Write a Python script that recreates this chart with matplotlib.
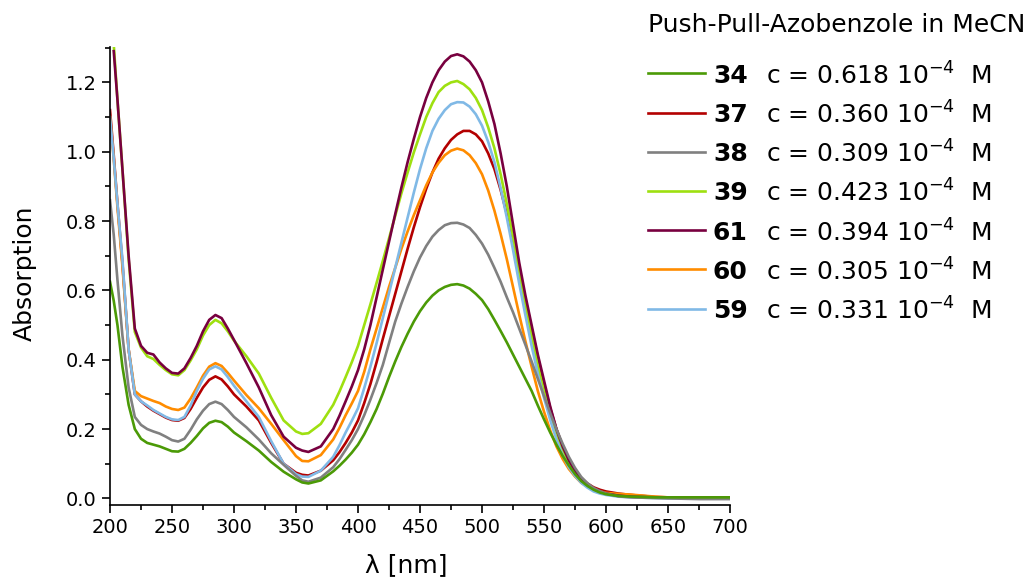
import matplotlib
matplotlib.use("Agg")
import numpy as np
import matplotlib.pyplot as plt
from matplotlib.lines import Line2D

nan = np.nan

# wavelength grid [nm]
wl = [200, 203, 206, 210, 215, 220, 225, 230, 235, 240, 245, 250, 255, 260,
      265, 270, 275, 280, 285, 290, 295, 300,
      310, 320, 330, 340, 350, 355, 360, 370,
      380, 385, 390, 395, 400, 405, 410, 415, 420, 425, 430, 435, 440, 445,
      450, 455, 460, 465, 470, 475, 480, 485, 490, 495, 500, 505, 510, 515,
      520, 525, 530, 535, 540, 545, 550, 555, 560, 565, 570, 575, 580, 585,
      590, 595, 600,
      610, 620, 630, 640, 650, 675, 700]

a34 = [0.625, 0.57, 0.50, 0.38, 0.27, 0.20, 0.172, 0.16, 0.155, 0.15, 0.143, 0.136, 0.135, 0.143,
       0.16, 0.18, 0.202, 0.218, 0.224, 0.22, 0.207, 0.19,
       0.165, 0.138, 0.105, 0.077, 0.055, 0.046, 0.043, 0.052,
       0.078, 0.094, 0.112, 0.132, 0.155, 0.185, 0.22, 0.258, 0.302, 0.35, 0.395, 0.437, 0.475, 0.51,
       0.54, 0.565, 0.585, 0.60, 0.61, 0.616, 0.618, 0.614, 0.605, 0.59, 0.572, 0.546, 0.515, 0.483,
       0.45, 0.415, 0.38, 0.345, 0.31, 0.268, 0.228, 0.19, 0.155, 0.123, 0.095, 0.07, 0.05, 0.036,
       0.025, 0.017, 0.012,
       0.007, 0.005, 0.004, 0.003, 0.003, 0.003, 0.003]

a37 = [1.12, 0.99, 0.85, 0.68, 0.43, 0.30, 0.28, 0.265, 0.253, 0.243, 0.233, 0.226, 0.224, 0.232,
       0.258, 0.29, 0.32, 0.342, 0.352, 0.343, 0.323, 0.30,
       0.265, 0.225, 0.16, 0.10, 0.074, 0.068, 0.066, 0.08,
       0.11, 0.133, 0.16, 0.19, 0.225, 0.275, 0.33, 0.393, 0.46, 0.525, 0.59, 0.655, 0.72, 0.782,
       0.84, 0.893, 0.94, 0.98, 1.01, 1.034, 1.05, 1.06, 1.06, 1.05, 1.03, 0.995, 0.95, 0.89,
       0.82, 0.743, 0.66, 0.575, 0.49, 0.407, 0.33, 0.26, 0.20, 0.151, 0.11, 0.081, 0.058, 0.043,
       0.032, 0.025, 0.02,
       0.014, 0.01, 0.007, 0.004, 0.003, 0.002, 0.002]

a38 = [0.86, 0.76, 0.63, 0.47, 0.32, 0.235, 0.212, 0.20, 0.193, 0.187, 0.178, 0.168, 0.164, 0.172,
       0.198, 0.228, 0.253, 0.272, 0.279, 0.272, 0.255, 0.235,
       0.205, 0.17, 0.13, 0.097, 0.065, 0.052, 0.048, 0.06,
       0.09, 0.113, 0.14, 0.168, 0.20, 0.24, 0.285, 0.333, 0.385, 0.448, 0.51, 0.562, 0.61, 0.655,
       0.695, 0.728, 0.755, 0.774, 0.788, 0.794, 0.795, 0.79, 0.78, 0.76, 0.735, 0.703, 0.665, 0.625,
       0.58, 0.537, 0.49, 0.443, 0.395, 0.345, 0.295, 0.246, 0.20, 0.158, 0.12, 0.088, 0.062, 0.044,
       0.03, 0.021, 0.014,
       0.006, 0.003, 0.002, 0.001, 0.0, -0.002, -0.002]

a39 = [nan, 1.31, 1.15, 0.95, 0.69, 0.48, 0.435, 0.41, 0.402, 0.385, 0.37, 0.358, 0.355, 0.37,
       0.398, 0.43, 0.47, 0.50, 0.515, 0.505, 0.482, 0.455,
       0.41, 0.36, 0.29, 0.225, 0.193, 0.186, 0.188, 0.215,
       0.27, 0.308, 0.35, 0.393, 0.44, 0.50, 0.56, 0.622, 0.685, 0.75, 0.815, 0.88, 0.94, 0.998,
       1.05, 1.10, 1.14, 1.172, 1.19, 1.20, 1.204, 1.195, 1.18, 1.155, 1.12, 1.07, 1.01, 0.935,
       0.85, 0.752, 0.65, 0.558, 0.47, 0.385, 0.31, 0.243, 0.185, 0.138, 0.10, 0.072, 0.05, 0.035,
       0.024, 0.017, 0.012,
       0.007, 0.005, 0.004, 0.003, 0.002, 0.002, 0.002]

a61 = [nan, 1.29, 1.15, 0.95, 0.70, 0.49, 0.44, 0.42, 0.415, 0.392, 0.375, 0.362, 0.36, 0.375,
       0.405, 0.44, 0.482, 0.515, 0.529, 0.52, 0.49, 0.457,
       0.39, 0.32, 0.24, 0.178, 0.146, 0.138, 0.134, 0.15,
       0.20, 0.238, 0.28, 0.323, 0.37, 0.43, 0.50, 0.58, 0.66, 0.74, 0.82, 0.897, 0.97, 1.037,
       1.10, 1.155, 1.20, 1.235, 1.26, 1.276, 1.281, 1.275, 1.26, 1.235, 1.20, 1.145, 1.08, 0.995,
       0.90, 0.79, 0.68, 0.585, 0.50, 0.415, 0.34, 0.265, 0.20, 0.15, 0.11, 0.08, 0.055, 0.04,
       0.028, 0.02, 0.014,
       0.008, 0.005, 0.004, 0.003, 0.002, 0.002, 0.002]

a60 = [1.10, 0.98, 0.84, 0.67, 0.43, 0.31, 0.295, 0.288, 0.281, 0.275, 0.265, 0.258, 0.255, 0.262,
       0.288, 0.32, 0.354, 0.38, 0.39, 0.382, 0.362, 0.34,
       0.298, 0.26, 0.215, 0.168, 0.122, 0.108, 0.107, 0.125,
       0.17, 0.203, 0.24, 0.274, 0.31, 0.365, 0.43, 0.49, 0.55, 0.61, 0.665, 0.72, 0.77, 0.817,
       0.86, 0.903, 0.94, 0.968, 0.99, 1.003, 1.009, 1.004, 0.99, 0.967, 0.935, 0.888, 0.83, 0.763,
       0.69, 0.61, 0.53, 0.453, 0.38, 0.31, 0.25, 0.196, 0.15, 0.114, 0.085, 0.063, 0.045, 0.034,
       0.025, 0.02, 0.016,
       0.013, 0.011, 0.008, 0.005, 0.003, 0.002, 0.002]

a59 = [1.10, 0.98, 0.85, 0.69, 0.43, 0.30, 0.28, 0.268, 0.255, 0.245, 0.235, 0.228, 0.226, 0.235,
       0.268, 0.31, 0.345, 0.372, 0.381, 0.372, 0.35, 0.325,
       0.28, 0.235, 0.165, 0.10, 0.07, 0.063, 0.062, 0.08,
       0.12, 0.153, 0.19, 0.224, 0.26, 0.318, 0.38, 0.448, 0.52, 0.592, 0.665, 0.738, 0.81, 0.882,
       0.95, 1.01, 1.06, 1.095, 1.12, 1.137, 1.143, 1.142, 1.13, 1.108, 1.075, 1.028, 0.97, 0.895,
       0.81, 0.717, 0.62, 0.528, 0.44, 0.36, 0.29, 0.226, 0.17, 0.125, 0.09, 0.065, 0.045, 0.031,
       0.02, 0.014, 0.01,
       0.005, 0.003, 0.002, 0.001, 0.0, 0.0, 0.0]

names = ["34", "37", "38", "39", "61", "60", "59"]
conc = ["0.618", "0.360", "0.309", "0.423", "0.394", "0.305", "0.331"]
series = [a34, a37, a38, a39, a61, a60, a59]
colors = ["#4b9a06", "#b30000", "#808080", "#9ee010", "#78003f", "#ff8c00", "#80b9e6"]
# drawing order (last on top)
order = [1, 5, 3, 6, 4, 2, 0]

plt.rcParams['font.family'] = 'DejaVu Sans'

fig = plt.figure(figsize=(10.33, 5.84), dpi=100)
ax = fig.add_axes([0.1065, 0.1353, 0.6002, 0.7842])

for i in order:
    ax.plot(wl, series[i], color=colors[i], lw=1.9, solid_joinstyle='round')

ax.set_xlim(200, 700)
ax.set_ylim(-0.019, 1.302)
ax.set_xticks(np.arange(200, 701, 50))
ax.set_xticks(np.arange(200, 701, 25), minor=True)
ax.set_yticks(np.arange(0, 1.21, 0.2))
ax.set_yticks(np.arange(0, 1.31, 0.1), minor=True)
ax.yaxis.set_major_formatter(plt.FormatStrFormatter('%.1f'))
ax.spines['top'].set_visible(False)
ax.spines['right'].set_visible(False)
for s in ['left', 'bottom']:
    ax.spines[s].set_linewidth(1.2)
ax.tick_params(which='major', direction='out', length=6, width=1.2, labelsize=14)
ax.tick_params(which='minor', direction='out', length=3.5, width=1.2)

ax.set_xlabel("λ [nm]", fontsize=18)
ax.set_ylabel("Absorption", fontsize=18)
ax.xaxis.set_label_coords(0.477, -0.105)
ax.yaxis.set_label_coords(-0.118, 0.507)

# legend
fig.text(648 / 1033, 1 - 25 / 584, "Push-Pull-Azobenzole in MeCN", fontsize=18,
         ha='left', va='center')
for k in range(len(names)):
    y = 1 - (73.3 + 39.2 * k) / 584
    fig.add_artist(Line2D([648 / 1033, 705 / 1033], [y, y], transform=fig.transFigure,
                          color=colors[k], lw=1.9))
    fig.text(713 / 1033, y, names[k], fontsize=18, fontweight='bold',
             ha='left', va='center_baseline')
    fig.text(766 / 1033, y, "c = " + conc[k] + " 10$^{-4}$  M", fontsize=18,
             ha='left', va='center_baseline')

fig.savefig("out.png", dpi=100)
